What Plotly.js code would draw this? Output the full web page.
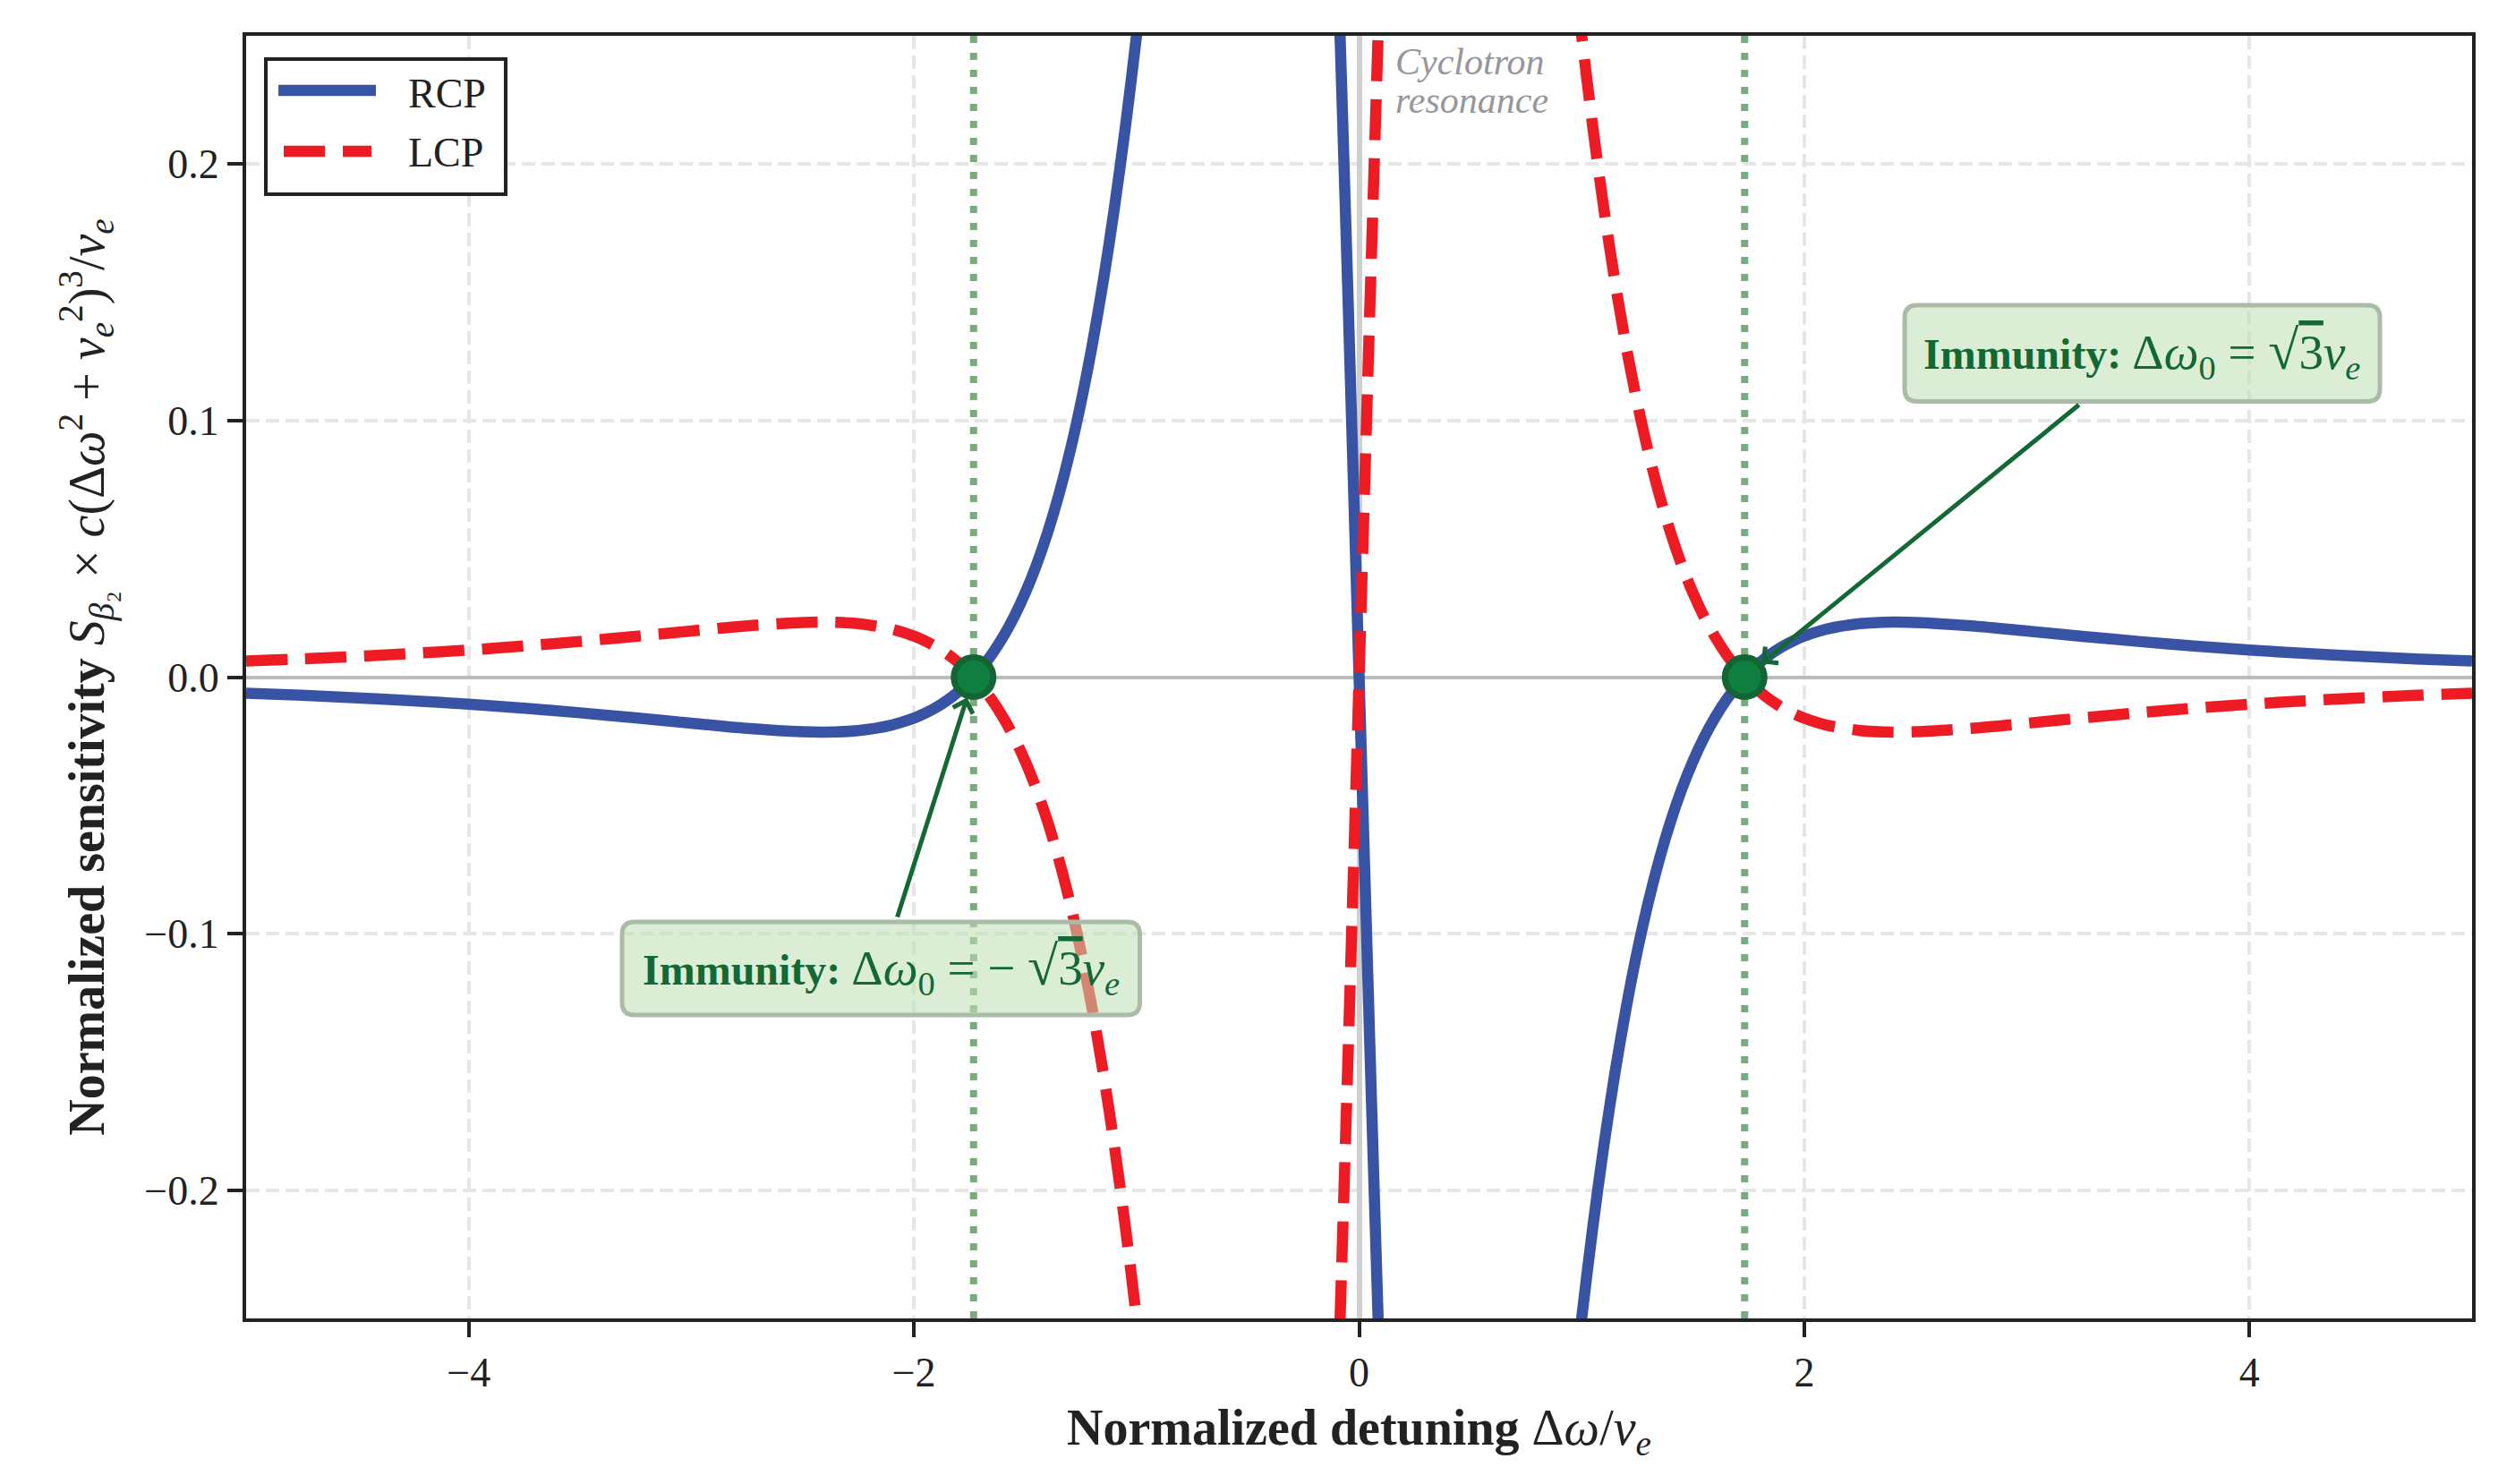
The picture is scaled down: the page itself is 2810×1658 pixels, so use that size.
<!DOCTYPE html>
<html>
<head>
<meta charset="utf-8">
<script src="https://cdn.plot.ly/plotly-3.0.1.min.js"></script>
<style>
  html, body { margin: 0; padding: 0; background: #ffffff; }
  #chart { width: 2810px; height: 1658px; }
</style>
</head>
<body>
<div id="chart"></div>
<script>
// Normalized detuning Δω/ν_e (null splits the branches that leave the visible window)
const detuning = [-5,-4.75,-4.5,-4.25,-4,-3.75,-3.5,-3.25,-3,-2.75,-2.5,-2.4,-2.25,-2.1,-2,-1.95,-1.9,-1.85,-1.8,-1.75,-1.7,-1.65,-1.6,-1.55,-1.5,-1.45,-1.4,-1.35,-1.3,-1.25,-1.2,-1.15,-1.1,-1.05,-1,-0.95,-0.9,
  null,-0.12,-0.1,-0.08,-0.05,0,0.05,0.08,0.1,0.12,null,
  0.9,0.95,1,1.05,1.1,1.15,1.2,1.25,1.3,1.35,1.4,1.45,1.5,1.55,1.6,1.65,1.7,1.75,1.8,1.85,1.9,1.95,2,2.1,2.25,2.4,2.5,2.75,3,3.25,3.5,3.75,4,4.25,4.5,4.75,5];

// Normalized sensitivity, right circular polarization
const rcp = [-0.006259,-0.007103,-0.008090,-0.009242,-0.010584,-0.012139,-0.013918,-0.015900,-0.018000,-0.019986,-0.021321,-0.021443,-0.020827,-0.018700,-0.016000,-0.014128,-0.011830,-0.009036,-0.005667,-0.001631,0.003177,0.008877,0.015603,0.023511,0.032772,0.043578,0.056143,0.070695,0.087490,0.106789,0.128863,0.153989,0.182416,0.214369,0.250000,0.289368,0.332392,
  null,0.343226,0.290206,0.234948,0.148757,0,-0.148757,-0.234948,-0.290206,-0.343226,null,
  -0.332392,-0.289368,-0.250000,-0.214369,-0.182416,-0.153989,-0.128863,-0.106789,-0.087490,-0.070695,-0.056143,-0.043578,-0.032772,-0.023511,-0.015603,-0.008877,-0.003177,0.001631,0.005667,0.009036,0.011830,0.014128,0.016000,0.018700,0.020827,0.021443,0.021321,0.019986,0.018000,0.015900,0.013918,0.012139,0.010584,0.009242,0.008090,0.007103,0.006259];

// Normalized sensitivity, left circular polarization
const lcp = [0.006259,0.007103,0.008090,0.009242,0.010584,0.012139,0.013918,0.015900,0.018000,0.019986,0.021321,0.021443,0.020827,0.018700,0.016000,0.014128,0.011830,0.009036,0.005667,0.001631,-0.003177,-0.008877,-0.015603,-0.023511,-0.032772,-0.043578,-0.056143,-0.070695,-0.087490,-0.106789,-0.128863,-0.153989,-0.182416,-0.214369,-0.250000,-0.289368,-0.332392,
  null,-0.343226,-0.290206,-0.234948,-0.148757,0,0.148757,0.234948,0.290206,0.343226,null,
  0.332392,0.289368,0.250000,0.214369,0.182416,0.153989,0.128863,0.106789,0.087490,0.070695,0.056143,0.043578,0.032772,0.023511,0.015603,0.008877,0.003177,-0.001631,-0.005667,-0.009036,-0.011830,-0.014128,-0.016000,-0.018700,-0.020827,-0.021443,-0.021321,-0.019986,-0.018000,-0.015900,-0.013918,-0.012139,-0.010584,-0.009242,-0.008090,-0.007103,-0.006259];

// Immunity points Δω0 = ±√3 ν_e
const immunityX = [-1.732, 1.732];
const immunityY = [0, 0];

// Axis ticks
const xTicks = [-4, -2, 0, 2, 4];
const yTicks = [-0.2, -0.1, 0.0, 0.1, 0.2];

const FONT = 'Liberation Serif, Times New Roman, serif';
const INK = '#222222';
const BLUE = '#3953a4';
const RED = '#ed1c24';
const GREEN_TEXT = '#146834';
const GREEN_FILL = '#0f7f3f';
const GREEN_EDGE = '#156433';

// plot area in pixels, used to turn pixel radii into axis units
const W = 2810, H = 1658;
const M = { l: 275, r: 48, t: 40, b: 185 };
const plotW = W - M.l - M.r, plotH = H - M.t - M.b;
const xRange = [-5, 5], yRange = [-0.25, 0.25];
const pxX = (xRange[1] - xRange[0]) / plotW;
const pxY = (yRange[1] - yRange[0]) / plotH;

function roundedBox(x0, x1, y0, y1, r) {
  const rx = r * pxX, ry = r * pxY;
  return `M${x0 + rx},${y1} L${x1 - rx},${y1} Q${x1},${y1} ${x1},${y1 - ry} ` +
         `L${x1},${y0 + ry} Q${x1},${y0} ${x1 - rx},${y0} ` +
         `L${x0 + rx},${y0} Q${x0},${y0} ${x0},${y0 + ry} ` +
         `L${x0},${y1 - ry} Q${x0},${y1} ${x0 + rx},${y1} Z`;
}

const traces = [
  {
    x: detuning, y: rcp, name: 'RCP', type: 'scatter', mode: 'lines',
    connectgaps: false, showlegend: false, hoverinfo: 'skip',
    line: { color: BLUE, width: 12.5, shape: 'spline', smoothing: 0.8 }
  },
  {
    x: detuning, y: lcp, name: 'LCP', type: 'scatter', mode: 'lines',
    connectgaps: false, showlegend: false, hoverinfo: 'skip',
    line: { color: RED, width: 12.5, dash: '46px,20px', shape: 'spline', smoothing: 0.8 }
  },
  {
    x: immunityX, y: immunityY, name: 'Immunity', type: 'scatter', mode: 'markers',
    showlegend: false, hoverinfo: 'skip',
    marker: { size: 44, color: GREEN_FILL, line: { color: GREEN_EDGE, width: 7 } }
  }
];

const shapes = [
  // immunity detunings
  ...immunityX.map(v => ({
    type: 'line', xref: 'x', yref: 'paper', x0: v, x1: v, y0: 0, y1: 1,
    line: { color: '#7aab7c', width: 8, dash: '8px,11px' }, layer: 'between'
  })),
  // annotation boxes
  { type: 'path', xref: 'x', yref: 'y', layer: 'above',
    path: roundedBox(2.451, 4.586, 0.1075, 0.1450, 14),
    fillcolor: 'rgba(190,222,176,0.55)', line: { color: '#aabba7', width: 5 } },
  { type: 'path', xref: 'x', yref: 'y', layer: 'above',
    path: roundedBox(-3.311, -0.985, -0.1317, -0.0954, 14),
    fillcolor: 'rgba(190,222,176,0.55)', line: { color: '#aabba7', width: 5 } },
  // legend frame and line samples
  { type: 'rect', xref: 'paper', yref: 'paper', layer: 'above',
    x0: 0.00885, x1: 0.1166, y0: 0.8765, y1: 0.9819,
    fillcolor: '#ffffff', line: { color: INK, width: 4 } },
  { type: 'line', xref: 'paper', yref: 'paper', layer: 'above',
    x0: 0.0145, x1: 0.0583, y0: 0.9574, y1: 0.9574,
    line: { color: BLUE, width: 12.5 } },
  { type: 'line', xref: 'paper', yref: 'paper', layer: 'above',
    x0: 0.0169, x1: 0.0563, y0: 0.9100, y1: 0.9100,
    line: { color: RED, width: 12.5, dash: '46px,20px' } }
];

// math part of the immunity labels is set a little larger than the bold word
const mathSpan = s => `<span style="font-size:55px">${s}</span>`;
const sqrt3 = '<span style="font-size:62px">√</span><span style="text-decoration:overline">3</span>';
const immunityFont = { family: FONT, size: 48, color: GREEN_TEXT };

const annotations = [
  {
    x: immunityX[1], y: immunityY[1], xref: 'x', yref: 'y',
    ax: 3.518, ay: 0.1262, axref: 'x', ayref: 'y',
    text: '<b>Immunity:</b> ' + mathSpan(`Δ<i>ω</i><sub>0</sub> = ${sqrt3}<i>ν</i><sub><i>e</i></sub>`),
    font: immunityFont, xanchor: 'center', yanchor: 'middle',
    borderpad: 20, borderwidth: 0, bgcolor: 'rgba(0,0,0,0)',
    showarrow: true, arrowhead: 4, arrowsize: 0.9, arrowwidth: 5,
    arrowcolor: GREEN_TEXT, standoff: 24
  },
  {
    x: immunityX[0], y: immunityY[0], xref: 'x', yref: 'y',
    ax: -2.148, ay: -0.1136, axref: 'x', ayref: 'y',
    text: '<b>Immunity:</b> ' + mathSpan(`Δ<i>ω</i><sub>0</sub> = − ${sqrt3}<i>ν</i><sub><i>e</i></sub>`),
    font: immunityFont, xanchor: 'center', yanchor: 'middle',
    borderpad: 20, borderwidth: 0, bgcolor: 'rgba(0,0,0,0)',
    showarrow: true, arrowhead: 4, arrowsize: 0.9, arrowwidth: 5,
    arrowcolor: GREEN_TEXT, standoff: 24
  },
  {
    x: 0.155, y: 0.2399, xref: 'x', yref: 'y', xanchor: 'left', yanchor: 'middle',
    text: '<i>Cyclotron</i>', showarrow: false,
    font: { family: FONT, size: 42, color: '#96969b' }
  },
  {
    x: 0.155, y: 0.2249, xref: 'x', yref: 'y', xanchor: 'left', yanchor: 'middle',
    text: '<i>resonance</i>', showarrow: false,
    font: { family: FONT, size: 42, color: '#96969b' }
  },
  // legend labels
  {
    x: 0.0720, y: 0.9553, xref: 'paper', yref: 'paper', xanchor: 'left', yanchor: 'middle',
    text: 'RCP', showarrow: false, font: { family: FONT, size: 46, color: INK }
  },
  {
    x: 0.0720, y: 0.9086, xref: 'paper', yref: 'paper', xanchor: 'left', yanchor: 'middle',
    text: 'LCP', showarrow: false, font: { family: FONT, size: 46, color: INK }
  }
];

const axisCommon = {
  showline: true, mirror: true, linecolor: INK, linewidth: 4,
  ticks: 'outside', ticklen: 17, tickwidth: 4, tickcolor: INK,
  tickfont: { family: FONT, size: 46, color: INK },
  showgrid: true, gridcolor: '#e6e6e6', gridwidth: 4, griddash: '15px,7px',
  zeroline: true, automargin: false
};

const layout = {
  width: W, height: H,
  margin: M,
  paper_bgcolor: '#ffffff', plot_bgcolor: '#ffffff',
  showlegend: false,
  font: { family: FONT, color: INK },
  xaxis: Object.assign({}, axisCommon, {
    range: xRange, tickvals: xTicks, tickformat: 'd',
    zerolinecolor: '#cfcfcf', zerolinewidth: 6,
    title: {
      text: '<b>Normalized detuning</b> Δ<i>ω</i>/<i>ν</i><sub><i>e</i></sub>',
      font: { family: FONT, size: 56, color: INK }, standoff: 18
    }
  }),
  yaxis: Object.assign({}, axisCommon, {
    range: yRange, tickvals: yTicks, tickformat: '.1f',
    zerolinecolor: '#bcbcc0', zerolinewidth: 4,
    title: {
      text: '<b>Normalized sensitivity</b> <i>S</i><sub><i>β</i>₂</sub> × <i>c</i>(Δ<i>ω</i><sup>2</sup> + <i>ν</i><sub><i>e</i></sub><sup>2</sup>)<sup>3</sup>/<i>ν</i><sub><i>e</i></sub>',
      font: { family: FONT, size: 56, color: INK }, standoff: 28
    }
  }),
  shapes: shapes,
  annotations: annotations
};

Plotly.newPlot('chart', traces, layout, { staticPlot: true, displayModeBar: false });
</script>
</body>
</html>
